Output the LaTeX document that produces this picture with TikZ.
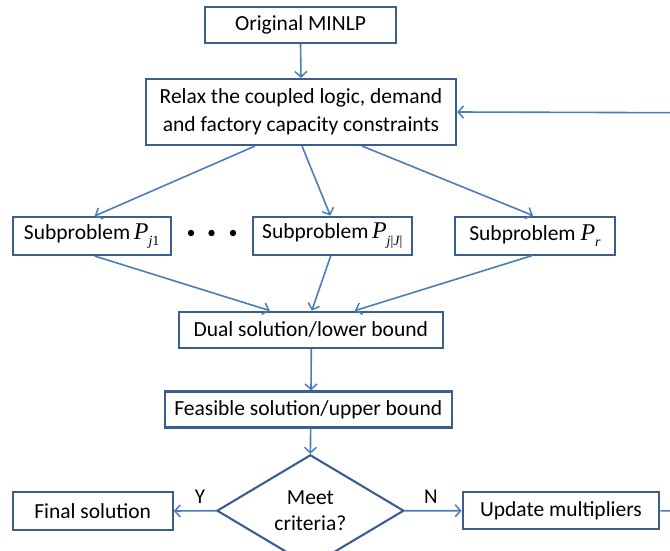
\documentclass[tikz,border=0pt]{standalone}
\usepackage{fontspec}
\setmainfont{Carlito}
\newfontfamily\tms{Liberation Serif}
\usetikzlibrary{arrows.meta,shapes.geometric}
\definecolor{boxc}{HTML}{3A5F8F}
\definecolor{arrc}{HTML}{4A7EBB}
\newcommand{\PP}[1]{{\tms\fontsize{24}{24}\selectfont\itshape P}\raisebox{-0.6ex}{\tms\fontsize{14}{14}\selectfont #1}}
\tikzset{
  box/.style={draw=boxc,line width=2.1pt,rectangle,inner sep=0pt,align=center,font=\fontsize{21.5}{28}\selectfont},
  dia/.style={draw=boxc,line width=2.1pt,diamond,inner sep=0pt,align=center,font=\fontsize{21.5}{26}\selectfont},
  arr/.style={draw=arrc,line width=1.6pt,-{Straight Barb[length=5.5pt,width=12pt,line width=1.5pt]}},
  lbl/.style={font=\fontsize{21}{21}\selectfont,inner sep=0pt}
}
\begin{document}
\begin{tikzpicture}[x=1pt,y=-1pt]
\useasboundingbox (0,0) rectangle (670,551);
\node[box,minimum width=191pt,minimum height=36pt] (minlp) at (300.5,25) {Original MINLP};
\node[box,minimum width=310pt,minimum height=66pt] (relax) at (301,112) {Relax the coupled logic, demand\\and factory capacity constraints};
\node[box,minimum width=158pt,minimum height=38pt] (pj1) at (91.7,236) {Subproblem\,\PP{\itshape j\upshape 1}};
\node[box,minimum width=159pt,minimum height=38pt] (pjj) at (332.3,235.6) {Subproblem\,\PP{\itshape j\upshape |\itshape J\upshape |}};
\node[box,minimum width=160pt,minimum height=38pt] (pr) at (535,235.6) {Subproblem \PP{\itshape r}};
\fill (191,233) circle (3.2pt) (211.5,233) circle (3.2pt) (233,233) circle (3.2pt);
\node[box,minimum width=264pt,minimum height=36pt] (dual) at (310.8,329.7) {Dual solution/lower bound};
\node[box,minimum width=287pt,minimum height=36pt] (feas) at (308.3,409.5) {Feasible solution/upper bound};
\node[dia,minimum width=187pt,minimum height=78pt] (meet) at (310.4,510.7) {Meet\\criteria?};
\node[box,minimum width=160pt,minimum height=37.5pt] (final) at (92.7,511) {Final solution};
\node[box,minimum width=196.6pt,minimum height=37pt] (upd) at (561,510.8) {Update multipliers};
\coordinate (cr) at (673,510.8);
\coordinate (ct) at (673,112.7);
\draw[arr] (minlp.south) -- (relax.north);
\draw[arr] ([xshift=-46pt]relax.south) -- ([xshift=3pt]pj1.north);
\draw[arr] ([xshift=1pt]relax.south) -- ([xshift=-2pt]pjj.north);
\draw[arr] ([xshift=61pt]relax.south) -- ([xshift=-2pt]pr.north);
\draw[arr] ([xshift=3pt]pj1.south) -- ([xshift=-41pt]dual.north);
\draw[arr] ([xshift=-1.5pt]pjj.south) -- ([xshift=1pt]dual.north);
\draw[arr] ([xshift=-3pt]pr.south) -- ([xshift=44pt]dual.north);
\draw[arr] ([xshift=0.5pt]dual.south) -- ([xshift=2.7pt]feas.north);
\draw[arr] ([xshift=2.3pt]feas.south) -- (meet.north);
\draw[arr] (meet.west) -- (final.east);
\draw[arr] (meet.east) -- (upd.west);
\draw[arr] (upd.east) -- (cr) -- (ct) -- (relax.east);
\node[lbl] (y) at (200,497) {Y};
\node[lbl] (n) at (431,497) {N};
\end{tikzpicture}
\end{document}
